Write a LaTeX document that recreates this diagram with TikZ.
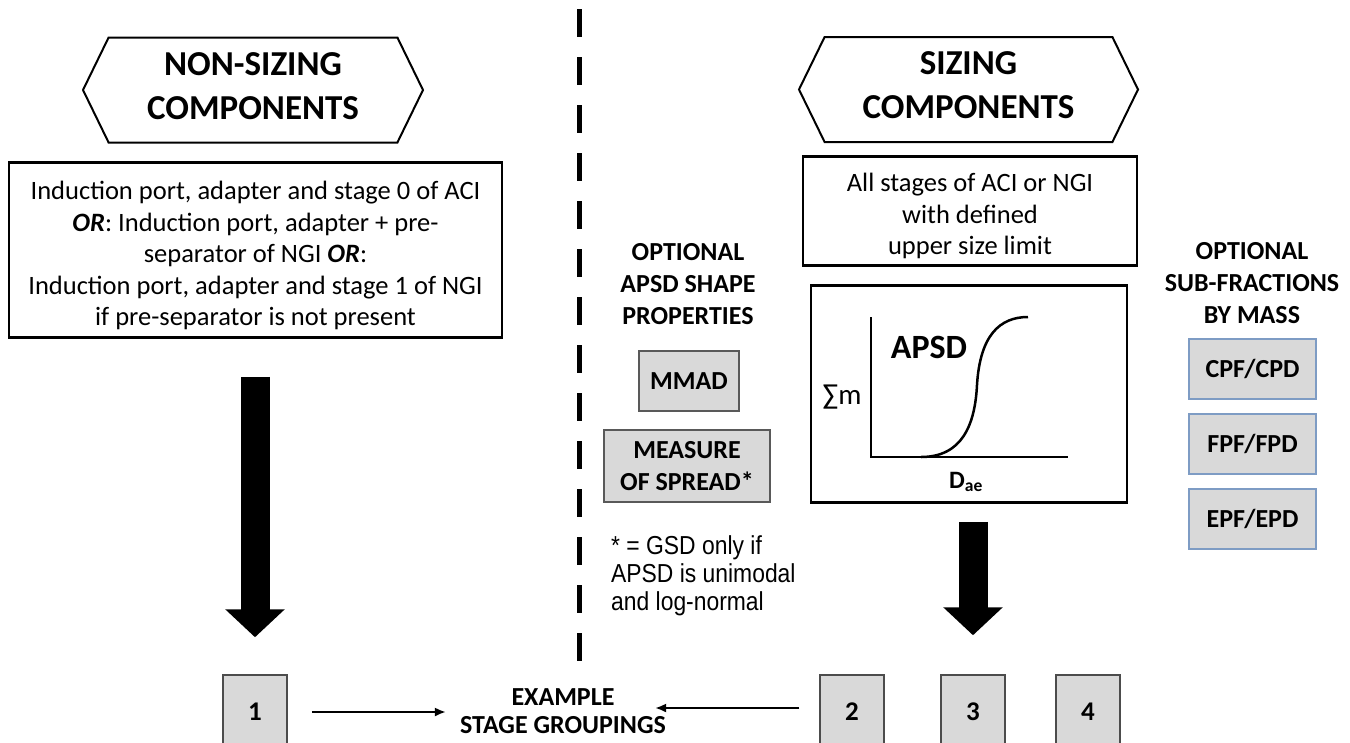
\documentclass[tikz,border=0pt]{standalone}
\usepackage{fontspec}
\setmainfont{Carlito}
\newfontfamily\notefont[FakeStretch=0.88]{Liberation Sans}
\usetikzlibrary{positioning,shapes.symbols,arrows.meta}
\definecolor{Boxgray}{RGB}{217,217,217}
\definecolor{Frameblue}{RGB}{126,156,196}

\tikzset{
  headhex/.style={draw, line width=2pt, signal, signal to=west and east, signal pointer angle=128,
    minimum width=340pt, minimum height=105pt, align=center, font=\fontsize{35}{44}\selectfont\bfseries},
  textbox/.style={draw, line width=2.5pt, align=center, inner sep=0pt, font=\fontsize{26.5}{31.5}\selectfont},
  optbox/.style={draw=black!65, line width=1.5pt, fill=Boxgray, align=center, inner sep=0pt,
    font=\fontsize{26}{32}\selectfont\bfseries},
  fracbox/.style={draw=Frameblue, line width=1.5pt, fill=Boxgray, minimum width=127pt, minimum height=60pt,
    inner sep=0pt, font=\fontsize{26}{30}\selectfont\bfseries},
  stagebox/.style={draw=black!70, line width=1.5pt, fill=Boxgray, minimum width=64pt, minimum height=74pt,
    inner sep=0pt, font=\fontsize{27}{30}\selectfont\bfseries},
  heading/.style={align=center, font=\fontsize{26}{32}\selectfont\bfseries},
  bigarrow/.style={line width=29pt, -{Triangle[length=28pt,width=58pt]}},
  thinarrow/.style={line width=2.5pt, -{Latex[length=11pt,width=9pt]}}
}

\begin{document}
\begin{tikzpicture}[x=1pt,y=-1pt]
  \clip (0,0) rectangle (1350,742);
  \fill[white] (0,0) rectangle (1350,742);

  % divider
  \draw[line width=5pt, dash pattern=on 28pt off 20pt] (579,9) -- (579,665);

  % non-sizing side
  \node[headhex] (nonsizing) at (253,90) {NON-SIZING\\COMPONENTS\rule[-8pt]{0pt}{1pt}};
  \node[textbox, minimum width=493pt, minimum height=175pt] (nsbox) at (255.5,250)
    {\rule{0pt}{30pt}Induction port, adapter and stage 0 of ACI\\
     \textbf{\textit{OR}}: Induction port, adapter + pre-\\
     separator of NGI \textbf{\textit{OR}}:\\
     Induction port, adapter and stage 1 of NGI\\
     if pre-separator is not present};

  % sizing side
  \node[headhex, minimum width=339pt] (sizing) at (968.5,89.5) {SIZING\\COMPONENTS\rule[-8pt]{0pt}{1pt}};
  \node[textbox, minimum width=334pt, minimum height=109pt] (szbox) at (970,211)
    {\rule{0pt}{29pt}All stages of ACI or NGI\\with defined\\upper size limit};
  \node[textbox, minimum width=316pt, minimum height=217pt] (apsdbox) at (969,394) {};
  \draw[line width=1.5pt] (871,317) -- (871,457) -- (1068,457);
  \draw[line width=2.5pt] (921,457) .. controls (962,457) and (975,425) .. (977,385)
    .. controls (980,335) and (1000,317) .. (1028,317);
  \node[font=\fontsize{34}{34}\selectfont\bfseries] (apsd) at (929,347) {APSD};
  \node[font=\fontsize{29}{29}\selectfont] (summ) at (842,397) {∑m};
  \node[font=\fontsize{25}{25}\selectfont\bfseries] (dae) at (966,482) {D\textsubscript{ae}};

  % shape properties
  \node[heading] (optshape) at (688,284) {OPTIONAL\\APSD SHAPE\\PROPERTIES};
  \node[optbox, minimum width=100pt, minimum height=60pt] (mmad) at (689,381) {MMAD};
  \node[optbox, minimum width=166pt, minimum height=72pt] (spread) at (687,466) {MEASURE\\OF SPREAD*};
  \node[anchor=west, align=left, inner sep=0pt, font=\notefont\fontsize{26}{28}\selectfont] (gsdnote) at (611,576)
    {* = GSD only if\\APSD is unimodal\\and log-normal};

  % sub-fractions
  \node[heading] (optfrac) at (1252,283) {OPTIONAL\\SUB-FRACTIONS\\BY MASS};
  \node[fracbox] (cpf) at (1252.5,369) {CPF/CPD};
  \node[fracbox] (fpf) at (1252.5,444) {FPF/FPD};
  \node[fracbox] (epf) at (1252.5,519) {EPF/EPD};

  % stage groupings
  \node[stagebox] (stage1) at (255,712) {1};
  \node[stagebox] (stage2) at (852,712) {2};
  \node[stagebox] (stage3) at (973,712) {3};
  \node[stagebox] (stage4) at (1088,712) {4};
  \node[align=center, inner sep=0pt, font=\fontsize{26}{28}\selectfont\bfseries] (groups) at (563,711) {EXAMPLE\\STAGE GROUPINGS};

  \draw[bigarrow, shorten <=38pt, shorten >=37pt] (stage1.north |- nsbox.south) -- (stage1.north);
  \draw[bigarrow, shorten <=18pt, shorten >=39pt] (stage3.north |- apsdbox.south) -- (stage3.north);
  \draw[thinarrow, shorten <=24pt, shorten >=14pt] (stage1.east) -- (groups.west |- stage1.east);
  \draw[thinarrow, shorten <=20pt, shorten >=-11pt] ([yshift=4pt]stage2.west) -- ([yshift=4pt]groups.east |- stage2.west);
\end{tikzpicture}
\end{document}
